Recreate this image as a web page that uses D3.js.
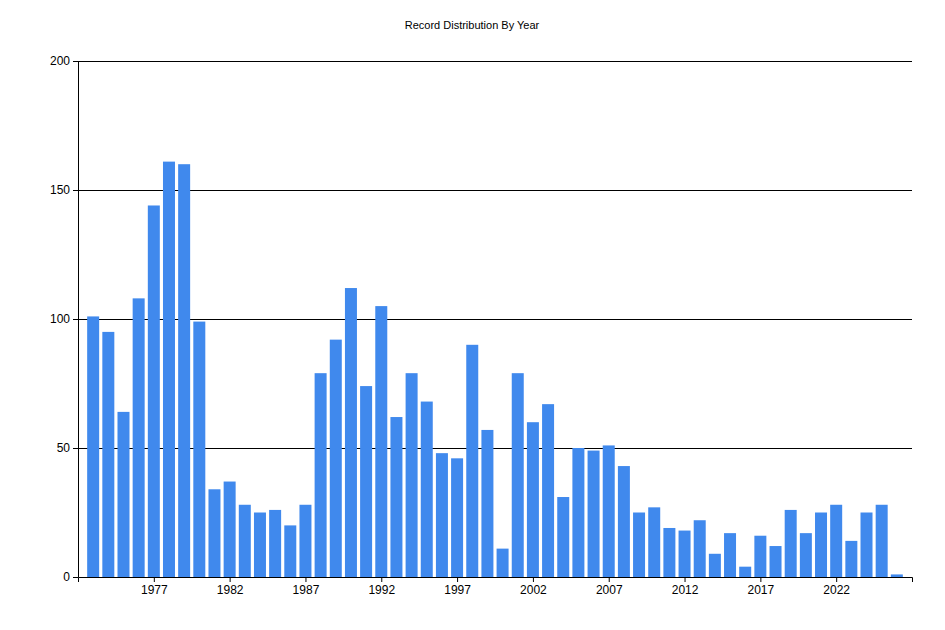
<!DOCTYPE html>
<html><head><meta charset="utf-8">
<script src="https://cdn.jsdelivr.net/npm/d3@7"></script>
<style>body{margin:0;background:#fff}text{font-family:"Liberation Sans",Arial,sans-serif}</style>
</head><body>
<script>
// data
const years = d3.range(1973, 2027);
const counts = [101, 95, 64, 108, 144, 161, 160, 99, 34, 37, 28, 25, 26, 20, 28, 79, 92, 112, 74, 105,
  62, 79, 68, 48, 46, 90, 57, 11, 79, 60, 67, 31, 50, 49, 51, 43, 25, 27, 19, 18,
  22, 9, 17, 4, 16, 12, 26, 17, 25, 28, 14, 25, 28, 1];
const yTicks = [0, 50, 100, 150, 200];
const xTicks = [1977, 1982, 1987, 1992, 1997, 2002, 2007, 2012, 2017, 2022];

const margin = { top: 61, right: 33, bottom: 53, left: 78 };
const width = 945 - margin.left - margin.right;
const height = 630 - margin.top - margin.bottom;

const svg = d3.select("body").append("svg")
  .attr("width", 945).attr("height", 630)
  .append("g")
  .attr("transform", "translate(" + margin.left + "," + margin.top + ")");

svg.append("text")
  .attr("x", 472 - margin.left).attr("y", 29 - margin.top)
  .attr("text-anchor", "middle").attr("font-size", 11)
  .text("Record Distribution By Year");

const x = d3.scaleLinear().domain([1972, 2027]).range([0, width]);
const y = d3.scaleLinear().domain([0, 200]).range([height, 0]);

// gridlines
svg.append("g").selectAll("line").data(yTicks.slice(1)).enter().append("line")
  .attr("x1", 0).attr("x2", width)
  .attr("y1", d => y(d) + 0.5).attr("y2", d => y(d) + 0.5)
  .attr("stroke", "#000");

const bw = 12;
svg.append("g").selectAll("rect").data(counts).enter().append("rect")
  .attr("x", (d, i) => x(years[i]) - bw / 2)
  .attr("y", d => y(d))
  .attr("width", bw)
  .attr("height", d => height - y(d))
  .attr("fill", "#4089ed");

const yAxis = svg.append("g")
  .call(d3.axisLeft(y).tickValues(yTicks).tickSize(5).tickSizeOuter(0));
yAxis.selectAll("text").attr("font-size", 12).attr("fill", "#000");

const xAxis = svg.append("g").attr("transform", "translate(0," + height + ")")
  .call(d3.axisBottom(x).tickValues(xTicks).tickFormat(d3.format("d")).tickSize(5).tickSizeOuter(5));
xAxis.selectAll("text").attr("font-size", 12).attr("fill", "#000");
xAxis.selectAll("line").attr("stroke", "#000");
yAxis.selectAll("line").attr("stroke", "#000");
xAxis.select(".domain").attr("stroke", "#000");
yAxis.select(".domain").attr("stroke", "#000");
</script>
</body></html>
